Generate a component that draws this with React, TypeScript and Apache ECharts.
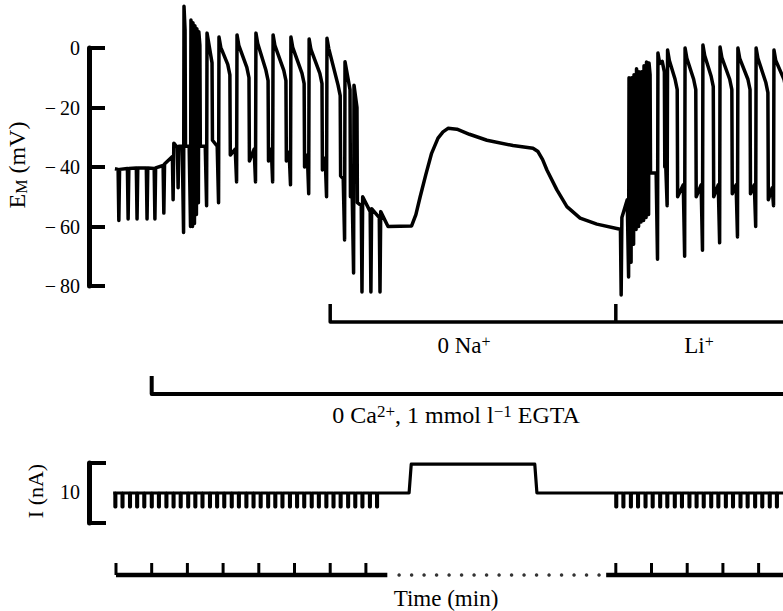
import React, { useEffect, useRef } from "react";
import * as echarts from "echarts";

// ---------- axis ranges (time in minutes, display time with break) ----------
const T_MIN = -0.756;
const T_MAX = 18.683;
const FONT = "'Liberation Serif', 'Times New Roman', serif";

// ---------- membrane potential E_M (mV) ----------
const restStart: [number, number] = [-0.03, -40.6];
// hyperpolarizing responses before spiking: [t, base, min, rebound]
const dipsControl: number[][] = [
  [0.08, -40.8, -58, -40.8],
  [0.34, -40.5, -57.5, -40.5],
  [0.59, -40.3, -57.5, -40.3],
  [0.87, -40.3, -57.5, -40.3],
  [1.09, -40.5, -57.5, -40.3],
  [1.34, -39.5, -55.5, -39],
  [1.6, -36.5, -51, -32],
  [1.74, -33.5, -47, -33],
];
// spikes in 0 Ca: [tUp, base, trough, peak, tDown, shoulder, after]
const spikesCa: number[][] = [
  [1.905, -33, -62, 14, 1.935, 6, -33],
  [2.1, -33, -60, 9.4, 2.13, 5, -33],
  [2.155, -33, -60, 8.5, 2.185, 4, -33],
  [2.21, -33, -59, 7.5, 2.24, 3, -33],
  [2.265, -33, -56, 6.5, 2.295, 2, -33],
  [2.32, -33, -52, 5.5, 2.35, 1, -33],
  [2.55, -33, -53, 5, 2.69, -5, -31],
  [2.885, -33, -52, 3.7, 3.19, -9, -36],
  [3.39, -34, -45, 4.4, 3.725, -10, -38],
  [3.92, -34, -45, 5, 4.26, -11, -38],
  [4.4, -34, -45, 4.4, 4.76, -11, -38],
  [4.9, -35, -46, 3.7, 5.27, -12, -40],
  [5.41, -36, -49, 3, 5.77, -12, -41],
  [5.91, -37, -50, 3.3, 6.28, -16, -43],
  [6.415, -44, -64.5, -4.6, 6.555, -14, -50],
  [6.667, -50, -75.6, -12.5, 6.75, -20, -52],
];
// hyperpolarizing responses after Na removal: [t, base, min, rebound]
const dipsNa: number[][] = [
  [6.89, -53, -82, -50],
  [7.14, -55, -82, -54],
  [7.395, -57, -82, -55],
];
// slow response in 0 Na+
const slowT = [7.62, 8.28, 8.4, 8.52, 8.68, 8.84, 9.02, 9.16, 9.3, 9.55, 9.9, 10.39, 11.12, 11.68, 11.82, 11.95, 12.07, 12.35, 12.63, 13.0, 13.47, 14.12];
const slowV = [-60, -59.8, -56, -50, -42.5, -35.4, -30.3, -28.2, -27, -27.3, -29, -31, -32.8, -33.7, -34.8, -37.5, -41, -47.7, -53.3, -57.2, -59.2, -60.9];
// Li+ onset
const dipsLi: number[][] = [[14.15, -61.2, -83, -57]];
// spikes in Li+: [tUp, base, trough, peak, tDown, shoulder, after]
const spikesLi: number[][] = [
  [14.37, -51, -77, -10, 14.4, -13, -45],
  [14.44, -45, -72, -10, 14.47, -13, -45],
  [14.51, -45, -66, -9, 14.54, -12, -45],
  [14.58, -45, -61, -7, 14.61, -10, -45],
  [14.65, -45, -60, -8, 14.68, -11, -45],
  [14.72, -45, -58.5, -8, 14.75, -11, -45],
  [14.79, -45, -58, -6, 14.82, -9, -45],
  [14.86, -45, -57, -4.7, 14.89, -8, -45],
  [14.93, -45, -56, -5, 14.96, -9, -42],
  [15.18, -42, -71, -1.7, 15.36, -8, -40],
  [15.45, -40, -53, -0.7, 15.72, -14, -50],
  [15.94, -46, -70, 0, 16.24, -14, -50],
  [16.44, -46, -68, 1, 16.73, -13, -50],
  [16.92, -46, -65.5, 0.3, 17.25, -14, -49],
  [17.42, -46, -63.5, 0, 17.76, -14, -49],
  [17.93, -46, -60, 0, 18.26, -15, -51],
  [18.43, -47, -53, -0.7, 18.77, -14, -50],
];

// ---------- injected current I (nA) ----------
const pulsesA = [-0.03, 0.17, 0.38, 0.58, 0.78, 0.99, 1.19, 1.4, 1.6, 1.8, 2.01, 2.21, 2.41, 2.62, 2.82, 3.02, 3.23, 3.43, 3.64, 3.84, 4.04, 4.25, 4.45, 4.65, 4.86, 5.06, 5.26, 5.47, 5.67, 5.88, 6.08, 6.28, 6.49, 6.69, 6.89, 7.1, 7.3];
const pulsesB = [14.0, 14.2, 14.41, 14.61, 14.82, 15.02, 15.23, 15.43, 15.64, 15.84, 16.05, 16.25, 16.45, 16.66, 16.86, 17.07, 17.27, 17.48, 17.68, 17.89, 18.09, 18.3, 18.5];
const pulseDepth = -2.3;
const stepOn = 8.21;
const stepOff = 11.79;
const stepLevel = 4.8;

// ---------- solution changes (min) ----------
const naStart = 6.0;
const liStart = 14.0;
const egtaStart = 1.0;

// ---------- time scale ----------
const timeSegments = [[0, 7.6], [13.73, 18.8]];
const timeTicks = [0, 1, 2, 3, 4, 5, 6, 7, 14, 15, 16, 17, 18];
const timeDots = [7.93, 8.28, 8.63, 8.98, 9.33, 9.68, 10.03, 10.38, 10.73, 11.08, 11.43, 11.78, 12.13, 12.48, 12.83, 13.18, 13.53];

function buildTrace() {
  const tr: number[][] = [[restStart[0], restStart[1]]];
  const addDips = (d: number[][]) =>
    d.forEach(([t, base, min, reb]) => tr.push([t - 0.02, base], [t, min], [t + 0.02, reb]));
  const addSpikes = (s: number[][]) =>
    s.forEach(([tu, base, trough, peak, td, sh, after]) => {
      tr.push([tu - 0.05, base], [tu - 0.012, trough], [tu, peak]);
      if (td - tu > 0.15) tr.push([tu + 0.05, peak - 3.5], [td - 0.06, sh + 3.5]);
      tr.push([td, sh], [td + 0.012, after]);
    });
  addDips(dipsControl);
  addSpikes(spikesCa);
  addDips(dipsNa);
  slowT.forEach((t, i) => tr.push([t, slowV[i]]));
  addDips(dipsLi);
  addSpikes(spikesLi);
  return tr;
}

function buildCurrent() {
  const c: number[][] = [[-0.08, 0]];
  const addPulses = (ps: number[]) =>
    ps.forEach((p) => c.push([p, 0], [p, pulseDepth], [p + 0.025, pulseDepth], [p + 0.025, 0]));
  addPulses(pulsesA);
  c.push([stepOn, 0], [stepOn + 0.06, stepLevel], [stepOff - 0.06, stepLevel], [stepOff, 0]);
  addPulses(pulsesB);
  c.push([T_MAX + 0.2, 0]);
  return c;
}

const black = "#000";
function seg(data: number[][], idx: number, width: number, z = 2) {
  return {
    type: "line",
    xAxisIndex: idx,
    yAxisIndex: idx,
    data,
    showSymbol: false,
    symbol: "none",
    clip: false,
    silent: true,
    z,
    lineStyle: { color: black, width, join: "round", cap: "butt" },
  };
}

function buildOption() {
  const grids = [
    { left: 89, right: 0, top: 48, height: 238 },
    { left: 89, right: 0, top: 463, height: 60 },
    { left: 89, right: 0, top: 563, height: 12 },
    { left: 89, right: 0, top: 304, height: 18 },
    { left: 89, right: 0, top: 376, height: 18 },
  ];
  const xAxis = grids.map((_, i) => ({ type: "value", gridIndex: i, min: T_MIN, max: T_MAX, show: false }));
  const yAxis: any[] = [
    {
      type: "value",
      gridIndex: 0,
      min: -80,
      max: 0,
      interval: 20,
      axisLine: { show: true, onZero: false, lineStyle: { color: black, width: 5 } },
      axisTick: { show: true, inside: true, length: 16, lineStyle: { color: black, width: 4 } },
      axisLabel: {
        color: black,
        fontSize: 20,
        fontFamily: FONT,
        margin: 9,
        formatter: (v: number) => (v < 0 ? "\u2212\u2009" + Math.abs(v) : String(v)),
      },
      splitLine: { show: false },
    },
    {
      type: "value",
      gridIndex: 1,
      min: -5,
      max: 5,
      interval: 10,
      axisLine: { show: true, onZero: false, lineStyle: { color: black, width: 5 } },
      axisTick: { show: true, inside: true, length: 17, lineStyle: { color: black, width: 4 } },
      axisLabel: { show: false },
      splitLine: { show: false },
    },
    { type: "value", gridIndex: 2, min: 0, max: 1, show: false },
    { type: "value", gridIndex: 3, min: 0, max: 1, show: false },
    { type: "value", gridIndex: 4, min: 0, max: 1, show: false },
  ];

  const series: any[] = [seg(buildTrace(), 0, 3.5, 3), seg(buildCurrent(), 1, 3.2)];
  timeSegments.forEach(([a, b]) => series.push(seg([[a, 0], [b, 0]], 2, 4.5)));
  timeTicks.forEach((t) => series.push(seg([[t, 0], [t, 1]], 2, 3)));
  series.push({
    type: "scatter",
    xAxisIndex: 2,
    yAxisIndex: 2,
    data: timeDots.map((t) => [t, 0]),
    symbolSize: 3.5,
    itemStyle: { color: black },
    silent: true,
    clip: false,
  });
  series.push(seg([[naStart, 1], [naStart, 0], [T_MAX + 0.2, 0]], 3, 3.5));
  series.push(seg([[liStart, 1], [liStart, 0]], 3, 3.5));
  series.push(seg([[egtaStart, 1], [egtaStart, 0], [T_MAX + 0.2, 0]], 4, 4));

  const txt = (x: number, y: number, text: string, extra: any = {}, rot = 0) => ({
    type: "text",
    x,
    y,
    rotation: rot,
    silent: true,
    style: {
      text,
      fill: black,
      fontSize: 21,
      fontFamily: FONT,
      align: "center",
      verticalAlign: "middle",
      ...extra,
    },
  });
  const mkRich = (size: number) => ({
    n: { fontSize: size, fontFamily: FONT, fill: black, color: black },
    sup: { fontSize: Math.round(size * 0.7), fontFamily: FONT, fill: black, color: black, verticalAlign: "top" },
    sub: { fontSize: Math.round(size * 0.65), fontFamily: FONT, fill: black, color: black, verticalAlign: "bottom" },
  });

  const graphic = [
    txt(17, 165, "{n|E}{sub|M}{n| (mV)}", { rich: mkRich(24) }, Math.PI / 2),
    txt(35, 491, "I (nA)", { fontSize: 22 }, Math.PI / 2),
    txt(70, 492, "10", { fontSize: 20 }),
    txt(464, 345, "{n|0 Na}{sup|+}", { rich: mkRich(23) }),
    txt(699, 345, "{n|Li}{sup|+}", { rich: mkRich(23) }),
    txt(456, 415, "{n|0 Ca}{sup|2+}{n|, 1 mmol l}{sup|\u22121}{n| EGTA}", { rich: mkRich(24) }),
    txt(446, 598, "Time (min)", { fontSize: 23 }),
  ];

  return {
    animation: false,
    backgroundColor: "#fff",
    textStyle: { fontFamily: FONT },
    grid: grids,
    xAxis,
    yAxis,
    series,
    graphic,
  };
}

export default function App() {
  const ref = useRef<HTMLDivElement>(null);
  useEffect(() => {
    if (!ref.current) return;
    const chart = echarts.init(ref.current, null, { renderer: "svg" });
    chart.setOption(buildOption() as any);
    return () => chart.dispose();
  }, []);
  return (
    <div
      ref={ref}
      style={{ position: "fixed", left: 0, top: 0, width: 783, height: 611, background: "#fff" }}
    />
  );
}
